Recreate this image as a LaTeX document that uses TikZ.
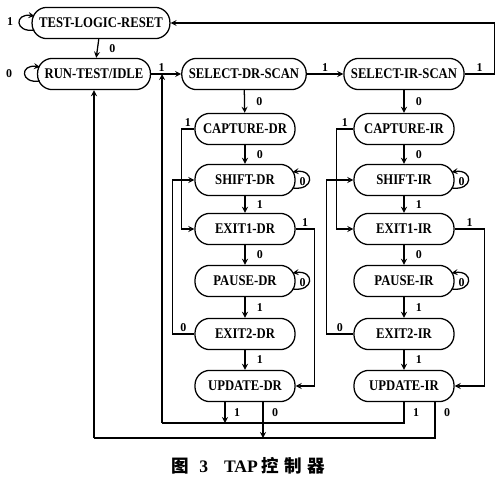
\documentclass[tikz,border=0pt]{standalone}
\usepackage{fontspec}
\setmainfont{Liberation Serif}
\newfontfamily\statefont{Liberation Serif}[FakeStretch=0.86]
\newfontfamily\cjk{Noto Sans CJK SC}
\usetikzlibrary{calc}

\tikzset{
  tapstate/.style={draw, rectangle, rounded corners=0.37cm, line width=0.9pt,
    minimum height=0.78cm, inner xsep=5pt,
    font=\statefont\bfseries\fontsize{10.5}{12}\selectfont},
  colstate/.style={tapstate, minimum width=2.5cm},
  lbl/.style={font=\bfseries\fontsize{8.5}{10}\selectfont, inner sep=1pt},
  dlbl/.style={lbl, right, xshift=7pt},
}

\begin{document}
\begin{tikzpicture}[x=0.025cm,y=-0.025cm,>=stealth,line width=0.9pt]
    \useasboundingbox (0,0) rectangle (500,488);

    % Reset, idle and scan selection.
    \node[tapstate] (tlr) at (101,23) {TEST-LOGIC-RESET};
    \node[tapstate] (rti) at (94,74) {RUN-TEST/IDLE};
    \node[tapstate] (sds) at (244,74) {SELECT-DR-SCAN};
    \node[tapstate] (sis) at (404,74) {SELECT-IR-SCAN};

    % DR column.
    \node[colstate] (capdr) at (245,129) {CAPTURE-DR};
    \node[colstate] (shdr) at (245,180) {SHIFT-DR};
    \node[colstate] (exadr) at (245,229) {EXIT1-DR};
    \node[colstate] (padr) at (245,281) {PAUSE-DR};
    \node[colstate] (exbdr) at (245,334) {EXIT2-DR};
    \node[colstate] (updr) at (245,386) {UPDATE-DR};

    % IR column.
    \node[colstate] (capir) at (404,129) {CAPTURE-IR};
    \node[colstate] (shir) at (404,180) {SHIFT-IR};
    \node[colstate] (exair) at (404,229) {EXIT1-IR};
    \node[colstate] (pair) at (404,281) {PAUSE-IR};
    \node[colstate] (exbir) at (404,334) {EXIT2-IR};
    \node[colstate] (upir) at (404,386) {UPDATE-IR};

    % Self loops.
    \draw[->] ($(tlr.west)+(3,7)$) .. controls +(-20,3) and +(-20,-3) .. ($(tlr.west)+(3,-7)$);
    \node[lbl] (ltlr) at (10,22) {1};
    \draw[->] ($(rti.west)+(3,7)$) .. controls +(-20,3) and +(-20,-3) .. ($(rti.west)+(3,-7)$);
    \node[lbl] (lrti) at (9,74) {0};
    \foreach \s in {shdr,padr,shir,pair} {
        \draw[->] ($(\s.east)+(-3,8)$) .. controls +(22,3) and +(22,-3) .. ($(\s.east)+(-3,-8)$);
        \node[lbl] (l\s) at ($(\s.east)+(7,2)$) {0};
    }

    % Top row.
    \draw[->] (tlr) -- node[dlbl] {0} (rti);
    \draw[->] (rti) -- node[lbl,above,pos=0.35] {1} (sds);
    \draw[->] (sds) -- node[lbl,above] {1} (sis);
    \draw[->] (sis.east) -- node[lbl,above] {1} ++(30,0) |- (tlr.east);

    % Down the columns.
    \foreach \a/\b/\t in {sds/capdr/0,capdr/shdr/0,shdr/exadr/1,exadr/padr/0,
                          padr/exbdr/1,exbdr/updr/1,
                          sis/capir/0,capir/shir/0,shir/exair/1,exair/pair/0,
                          pair/exbir/1,exbir/upir/1}
        \draw[->] (\a) -- node[dlbl] {\t} (\b);

    % Side paths.
    \draw[->] (capdr.west) -- node[lbl,above] {1} ++(-13,0) |- (exadr.west);
    \draw[->] (exbdr.west) -- node[lbl,above] {0} ++(-22,0) |- (shdr.west);
    \draw[->] (exadr.east) -- node[lbl,above] {1} ++(19,0) |- (updr.east);
    \draw[->] (capir.west) -- node[lbl,above] {1} ++(-17,0) |- (exair.west);
    \draw[->] (exbir.west) -- node[lbl,above] {0} ++(-27,0) |- (shir.west);
    \draw[->] (exair.east) -- node[lbl,above] {1} ++(30,0) |- (upir.east);

    % Return buses.
    \coordinate (busa) at (162,423);
    \coordinate (busb) at (94,438);
    \coordinate (drone) at ($(updr.south)+(-20,0)$);
    \coordinate (drzero) at ($(updr.south)+(18,0)$);
    \coordinate (irone) at (upir.south);
    \coordinate (irzero) at ($(upir.south)+(31,0)$);
    \draw[->] (drone) -- node[dlbl,xshift=-2pt] {1} (drone |- busa);
    \draw[->] (drzero) -- node[dlbl,xshift=-2pt,pos=0.3] {0} (drzero |- busb);
    \draw (irone) -- node[dlbl,xshift=-2pt] {1} (irone |- busa) -- (busa);
    \draw[->] (busa) -- (busa |- sds.west);
    \draw (irzero) -- node[dlbl,xshift=-2pt,pos=0.3] {0} (irzero |- busb) -- (busb);
    \draw[->] (busb) -- (rti.south);

    \node[font=\fontsize{12.5}{14}\selectfont] (caption) at (248,466)
        {{\cjk\bfseries 图}\hspace{0.6em}\textbf{3}\hspace{0.9em}\textbf{TAP}\hspace{0.2em}{\cjk\bfseries 控\hspace{0.3em}制\hspace{0.3em}器}};
\end{tikzpicture}
\end{document}
